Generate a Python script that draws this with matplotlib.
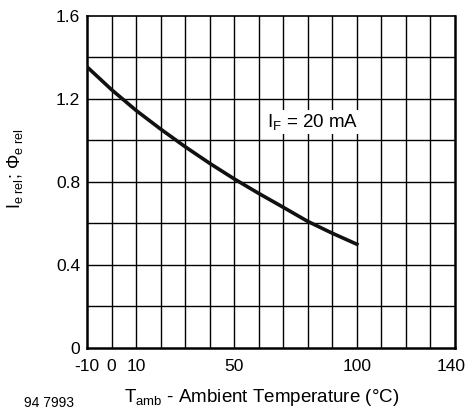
import matplotlib
matplotlib.use("Agg")
import matplotlib.pyplot as plt
import matplotlib.transforms as mtransforms
import numpy as np

plt.rcParams['font.family'] = ['Liberation Sans', 'DejaVu Sans']
plt.rcParams['mathtext.fontset'] = 'custom'
plt.rcParams['mathtext.rm'] = 'Liberation Sans'
plt.rcParams['mathtext.it'] = 'Liberation Sans'

# relative radiant intensity vs ambient temperature, IF = 20 mA
temp = [-10, 0, 10, 20, 30, 40, 50, 60, 70, 80, 90, 100]
i_rel = [1.355, 1.245, 1.145, 1.055, 0.97, 0.89, 0.815, 0.745, 0.678, 0.61, 0.553, 0.50]

xticks = [-10, 0, 10, 50, 100, 140]
yticks = [0, 0.4, 0.8, 1.2, 1.6]
ytick_labels = ['0', '0.4', '0.8', '1.2', '1.6']

fig = plt.figure(figsize=(4.66, 4.11), dpi=100)
ax = fig.add_axes([0.1867, 0.1533, 0.7897, 0.8078])

ax.set_xlim(-10, 140)
ax.set_ylim(0, 1.6)

# full grid: every 10 degC and every 0.2
for gx in np.arange(0, 140, 10):
    ax.axvline(gx, color='black', lw=1.0, zorder=1)
for gy in np.arange(0.2, 1.6, 0.2):
    ax.axhline(gy, color='black', lw=1.0, zorder=1)

ax.set_xticks(xticks)
ax.set_xticklabels([str(t) for t in xticks])
ax.set_yticks(yticks)
ax.set_yticklabels(ytick_labels)
ax.tick_params(length=0, labelsize=12.5)
ax.tick_params(axis='x', pad=8)
ax.tick_params(axis='y', pad=5)

# pull the last x label in a little so it stays on the canvas
last = ax.get_xticklabels()[-1]
last.set_transform(last.get_transform() +
                   mtransforms.ScaledTranslation(-4 / 100, 0, fig.dpi_scale_trans))

for side in ['left', 'bottom', 'right']:
    ax.spines[side].set_linewidth(1.8)
ax.spines['top'].set_linewidth(1.2)

ax.plot(temp, i_rel, color='#111111', lw=2.6, zorder=3)

ax.text(63.5, 1.09, r'I$_{\rm F}$ = 20 mA', fontsize=13.5, ha='left', va='center',
        zorder=4, bbox=dict(facecolor='white', edgecolor='none', pad=1.5))

fig.text(15 / 466, 1 - 169 / 411, r'I$_{\rm e\ rel}$; Φ$_{\rm e\ rel}$',
         rotation=90, ha='center', va='center', fontsize=13)
fig.text(262 / 466, 1 - 397 / 411,
         r'T$_{\rm amb}$ - Ambient Temperature (°C)',
         ha='center', va='center', fontsize=13.5)
fig.text(24 / 466, 1 - 403 / 411, '94 7993', ha='left', va='center', fontsize=10)

fig.savefig('out.png', dpi=100)
